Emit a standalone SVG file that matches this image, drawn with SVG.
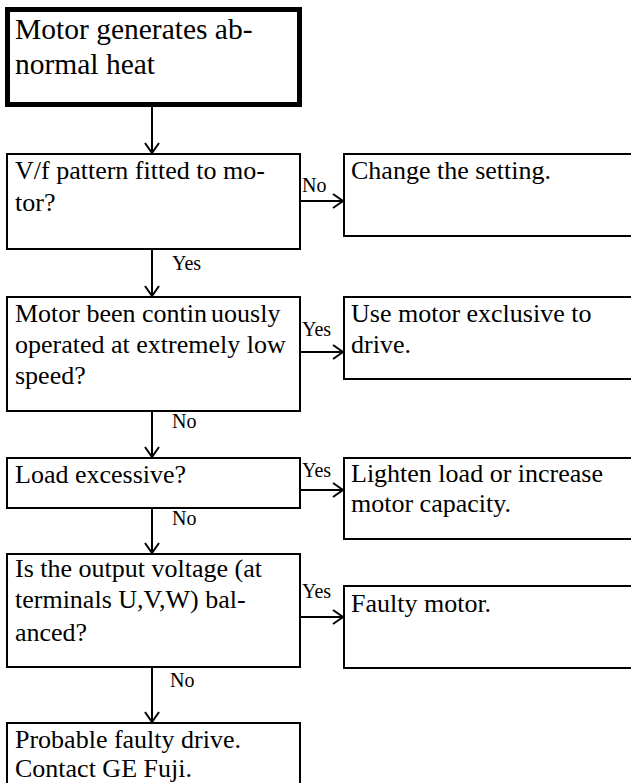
<svg xmlns="http://www.w3.org/2000/svg" width="631" height="783" viewBox="0 0 631 783">
<defs>
<style>
.box{fill:#fff;stroke:#000;stroke-width:2}
.t{font-family:"Liberation Serif","Times New Roman",serif;font-size:26px;fill:#000}
.big{font-size:29.5px}
.lbl{font-family:"Liberation Serif","Times New Roman",serif;font-size:20px;fill:#000}
.c{stroke:#000;stroke-width:2;fill:none;marker-end:url(#ah)}
</style>
<marker id="ah" markerWidth="14" markerHeight="16" refX="11" refY="8" orient="auto" markerUnits="userSpaceOnUse">
<path d="M1,1 L11,8 L1,15" fill="none" stroke="#000" stroke-width="2"/>
</marker>
</defs>
<rect width="631" height="783" fill="#fff"/>
<g id="connectors">
<line class="c" x1="152" y1="107" x2="152" y2="153"/>
<line class="c" x1="152" y1="249" x2="152" y2="296"/>
<line class="c" x1="152" y1="411" x2="152" y2="457"/>
<line class="c" x1="152" y1="508" x2="152" y2="553"/>
<line class="c" x1="152" y1="667" x2="152" y2="722"/>
<line class="c" x1="300" y1="201" x2="343" y2="201"/>
<line class="c" x1="300" y1="352" x2="343" y2="352"/>
<line class="c" x1="300" y1="490" x2="343" y2="490"/>
<line class="c" x1="300" y1="617" x2="343" y2="617"/>
<text class="lbl" x="302" y="192">No</text>
<text class="lbl" x="172" y="270">Yes</text>
<text class="lbl" x="302" y="336">Yes</text>
<text class="lbl" x="172" y="428">No</text>
<text class="lbl" x="302" y="477">Yes</text>
<text class="lbl" x="172" y="525">No</text>
<text class="lbl" x="302" y="598">Yes</text>
<text class="lbl" x="170" y="687">No</text>
</g>
<g id="start">
<rect x="7.5" y="9.5" width="292" height="95" fill="#fff" stroke="#000" stroke-width="5"/>
<text class="t big" x="15" y="39">Motor generates ab-</text>
<text class="t big" x="15" y="74">normal heat</text>
</g>
<g id="q1">
<rect class="box" x="7" y="154" width="293" height="95"/>
<text class="t" x="15" y="179">V/f pattern fitted to mo-</text>
<text class="t" x="15" y="211">tor?</text>
</g>
<g id="a1">
<rect class="box" x="344" y="154" width="300" height="82"/>
<text class="t" x="351" y="179">Change the setting.</text>
</g>
<g id="q2">
<rect class="box" x="7" y="297" width="293" height="114"/>
<text class="t" x="15" y="322">Motor been contin<tspan dx="4">uously</tspan></text>
<text class="t" x="15" y="353">operated at extremely low</text>
<text class="t" x="15" y="384">speed?</text>
</g>
<g id="a2">
<rect class="box" x="344" y="297" width="300" height="82"/>
<text class="t" x="351" y="322">Use motor exclusive to</text>
<text class="t" x="351" y="353">drive.</text>
</g>
<g id="q3">
<rect class="box" x="7" y="458" width="293" height="50"/>
<text class="t" x="15" y="483">Load excessive?</text>
</g>
<g id="a3">
<rect class="box" x="344" y="458" width="300" height="81"/>
<text class="t" x="351" y="482">Lighten load or increase</text>
<text class="t" x="351" y="512">motor capacity.</text>
</g>
<g id="q4">
<rect class="box" x="7" y="554" width="293" height="113"/>
<text class="t" x="15" y="577">Is the output voltage (at</text>
<text class="t" x="15" y="608">terminals U,V,W) bal-</text>
<text class="t" x="15" y="641">anced?</text>
</g>
<g id="a4">
<rect class="box" x="344" y="586" width="300" height="82"/>
<text class="t" x="351" y="612">Faulty motor.</text>
</g>
<g id="end">
<rect class="box" x="7" y="723" width="293" height="80"/>
<text class="t" x="15" y="748">Probable faulty drive.</text>
<text class="t" x="15" y="777">Contact GE Fuji.</text>
</g>
</svg>
